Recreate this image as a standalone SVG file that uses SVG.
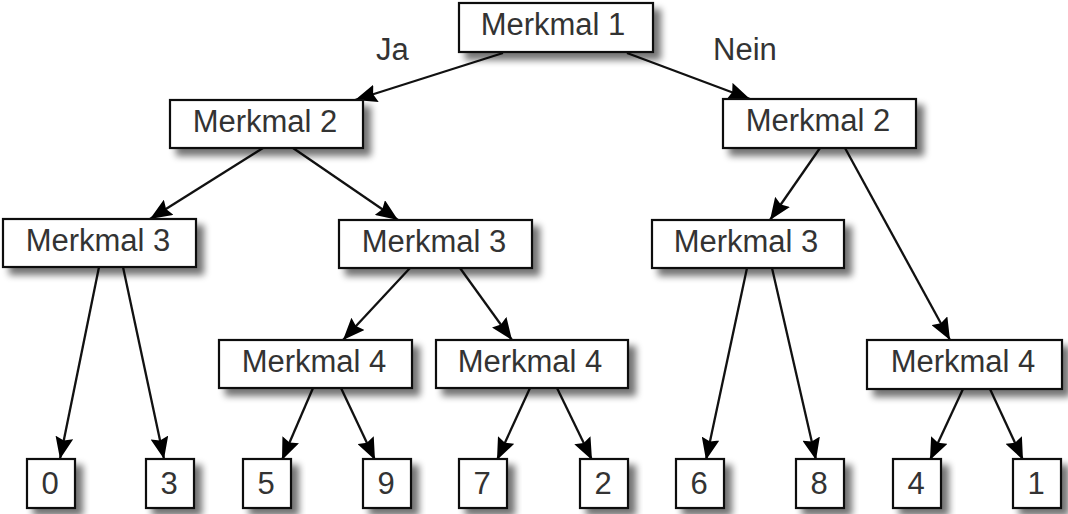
<svg xmlns="http://www.w3.org/2000/svg" width="1068" height="514" viewBox="0 0 1068 514">
<defs>
<filter id="sh" x="-20%" y="-30%" width="150%" height="190%">
<feGaussianBlur in="SourceAlpha" stdDeviation="3.5"/>
<feOffset dx="7" dy="7" result="b"/>
<feComponentTransfer><feFuncA type="linear" slope="0.55"/></feComponentTransfer>
<feMerge><feMergeNode/><feMergeNode in="SourceGraphic"/></feMerge>
</filter>
<marker id="ah" viewBox="0 0 22 18" refX="22" refY="9" markerWidth="22" markerHeight="18" markerUnits="userSpaceOnUse" orient="auto">
<path d="M0,0 L22,9 L0,18 L3,9 z" fill="#000"/>
</marker>
</defs>
<style>
.box{fill:#fff;stroke:#111;stroke-width:2.2;filter:url(#sh)}
.t{font-family:"Liberation Sans",Arial,sans-serif;font-size:31px;fill:#333;text-anchor:middle}
.lbl{font-family:"Liberation Sans",Arial,sans-serif;font-size:31px;fill:#333}
.e{stroke:#111;stroke-width:2.3;fill:none;marker-end:url(#ah)}
</style>
<rect width="1068" height="514" fill="#fff"/>
<g id="connectors">
<line class="e" x1="503" y1="53" x2="355" y2="100"/>
<line class="e" x1="627" y1="53" x2="750" y2="99"/>
<line class="e" x1="263" y1="148" x2="150" y2="219"/>
<line class="e" x1="293" y1="148" x2="398" y2="220"/>
<line class="e" x1="99" y1="267" x2="60" y2="459"/>
<line class="e" x1="123" y1="267" x2="164" y2="459"/>
<line class="e" x1="820" y1="148" x2="770" y2="220"/>
<line class="e" x1="845" y1="148" x2="950" y2="340"/>
<line class="e" x1="410" y1="268" x2="343" y2="340"/>
<line class="e" x1="460" y1="268" x2="512" y2="340"/>
<line class="e" x1="747" y1="268" x2="706" y2="460"/>
<line class="e" x1="772" y1="268" x2="816" y2="460"/>
<line class="e" x1="313" y1="388" x2="282" y2="460"/>
<line class="e" x1="341" y1="388" x2="375" y2="460"/>
<line class="e" x1="530" y1="388" x2="497" y2="460"/>
<line class="e" x1="557" y1="388" x2="592" y2="460"/>
<line class="e" x1="963" y1="389" x2="930" y2="460"/>
<line class="e" x1="990" y1="389" x2="1023" y2="460"/>
</g>
<g id="labels">
<text class="lbl" x="376" y="60">Ja</text>
<text class="lbl" x="713" y="60">Nein</text>
</g>
<g id="n1"><rect class="box" x="459" y="3" width="194" height="49"/><text class="t" x="553" y="35">Merkmal 1</text></g>
<g id="n2a"><rect class="box" x="170" y="100" width="193" height="48"/><text class="t" x="265" y="132">Merkmal 2</text></g>
<g id="n2b"><rect class="box" x="723" y="99" width="193" height="49"/><text class="t" x="818" y="131">Merkmal 2</text></g>
<g id="n3a"><rect class="box" x="3" y="219" width="193" height="48"/><text class="t" x="98" y="251">Merkmal 3</text></g>
<g id="n3b"><rect class="box" x="339" y="220" width="193" height="48"/><text class="t" x="434" y="252">Merkmal 3</text></g>
<g id="n3c"><rect class="box" x="652" y="220" width="192" height="48"/><text class="t" x="746" y="252">Merkmal 3</text></g>
<g id="n4a"><rect class="box" x="219" y="340" width="193" height="48"/><text class="t" x="314" y="372">Merkmal 4</text></g>
<g id="n4b"><rect class="box" x="436" y="340" width="192" height="48"/><text class="t" x="530" y="372">Merkmal 4</text></g>
<g id="n4c"><rect class="box" x="867" y="340" width="195" height="49"/><text class="t" x="963" y="372">Merkmal 4</text></g>
<g id="l0"><rect class="box" x="27" y="459" width="48" height="49"/><text class="t" x="50" y="494">0</text></g>
<g id="l3"><rect class="box" x="146" y="459" width="48" height="49"/><text class="t" x="169" y="494">3</text></g>
<g id="l5"><rect class="box" x="243" y="459" width="48" height="49"/><text class="t" x="266" y="494">5</text></g>
<g id="l9"><rect class="box" x="363" y="459" width="48" height="49"/><text class="t" x="386" y="494">9</text></g>
<g id="l7"><rect class="box" x="459" y="459" width="48" height="49"/><text class="t" x="482" y="494">7</text></g>
<g id="l2"><rect class="box" x="580" y="459" width="48" height="49"/><text class="t" x="603" y="494">2</text></g>
<g id="l6"><rect class="box" x="676" y="459" width="48" height="49"/><text class="t" x="699" y="494">6</text></g>
<g id="l8"><rect class="box" x="796" y="459" width="48" height="49"/><text class="t" x="819" y="494">8</text></g>
<g id="l4"><rect class="box" x="893" y="459" width="48" height="49"/><text class="t" x="916" y="494">4</text></g>
<g id="l1"><rect class="box" x="1013" y="459" width="48" height="49"/><text class="t" x="1036" y="494">1</text></g>
</svg>
